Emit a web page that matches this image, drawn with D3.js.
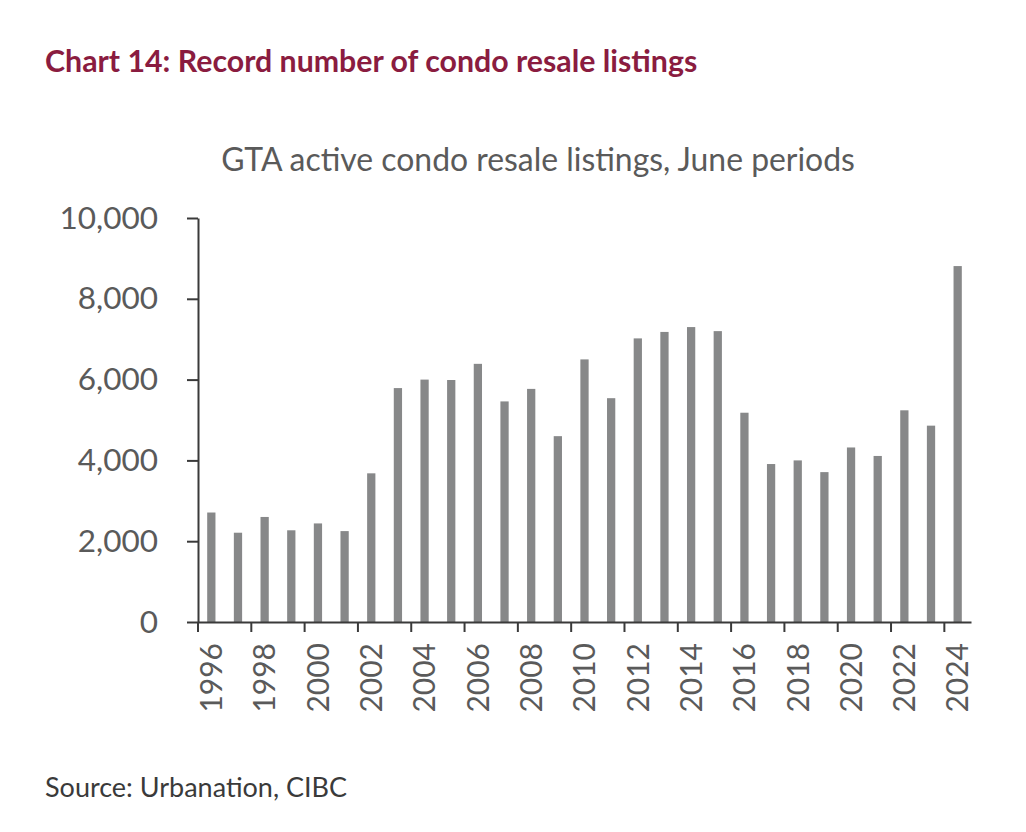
<!DOCTYPE html>
<html>
<head>
<meta charset="utf-8">
<script src="https://cdn.jsdelivr.net/npm/d3@7"></script>
<style>
  body { margin: 0; background: #fff; }
  svg { display: block; }
</style>
</head>
<body>
<div id="graf"></div>
<script>
// Datos: listados activos de condos en reventa, GTA, junio
const years = d3.range(1996, 2025)
const listings = [2710, 2210, 2600, 2270, 2440, 2250, 3680, 5790, 6000, 5990,
                  6390, 5460, 5770, 4600, 6500, 5540, 7020, 7180, 7300, 7200,
                  5180, 3910, 4000, 3710, 4320, 4110, 5240, 4860, 8810]
const yTicks = [0, 2000, 4000, 6000, 8000, 10000]
const xLabels = years.filter(d => d % 2 === 0)

const titleText = 'Chart 14: Record number of condo resale listings'
const subtitleText = 'GTA active condo resale listings, June periods'
const sourceText = 'Source: Urbanation, CIBC'

const data = years.map((y, i) => ({ year: y, value: listings[i] }))

// I. Configuración
const ancho_total = 1026
const alto_total = 832
const margins = { top: 218, left: 198, right: 55, bottom: 210 }
const ancho = ancho_total - margins.left - margins.right
const alto = alto_total - margins.top - margins.bottom

const svg = d3.select('#graf').append('svg')
  .attr('width', ancho_total)
  .attr('height', alto_total)

const fontGris = 'Lato, "Open Sans", sans-serif'

// títulos
svg.append('text')
  .attr('x', 45)
  .attr('y', 72)
  .attr('font-family', fontGris)
  .attr('font-weight', 700)
  .attr('font-size', '30.3px')
  .attr('fill', '#8a1c40')
  .text(titleText)

svg.append('text')
  .attr('x', 538)
  .attr('y', 171)
  .attr('text-anchor', 'middle')
  .attr('font-family', fontGris)
  .attr('font-size', '31.9px')
  .attr('fill', '#5a5a5a')
  .text(subtitleText)

svg.append('text')
  .attr('x', 45)
  .attr('y', 797)
  .attr('font-family', fontGris)
  .attr('font-size', '27px')
  .attr('fill', '#3a3a3a')
  .text(sourceText)

const g = svg.append('g')
  .attr('transform', `translate(${margins.left}, ${margins.top})`)

// escaladores
const x = d3.scaleBand()
  .domain(years)
  .range([0, ancho])
  .paddingInner(0.69)
  .paddingOuter(0.345)

const y = d3.scaleLinear()
  .domain([0, 10000])
  .range([alto, 0])

// barras
g.selectAll('rect.bar')
  .data(data)
  .enter()
  .append('rect')
    .attr('class', 'bar')
    .attr('x', d => x(d.year))
    .attr('y', d => y(d.value))
    .attr('width', x.bandwidth())
    .attr('height', d => alto - y(d.value))
    .attr('fill', '#878889')

// eje Y
const yAxisG = g.append('g')
  .call(d3.axisLeft(y)
    .tickValues(yTicks)
    .tickSize(11)
    .tickSizeOuter(0)
    .tickPadding(29)
    .tickFormat(d3.format(',d')))

// eje X: marcas en los bordes de banda, etiquetas al centro
const xAxisG = g.append('g')
  .attr('transform', `translate(0,${alto})`)
  .call(d3.axisBottom(x)
    .tickValues(xLabels)
    .tickSize(10)
    .tickSizeOuter(0))

xAxisG.selectAll('.tick line')
  .attr('x1', -x.step() / 2)
  .attr('x2', -x.step() / 2)

xAxisG.selectAll('.tick text')
  .attr('transform', 'rotate(-90)')
  .attr('text-anchor', 'end')
  .attr('x', -21)
  .attr('y', 0)
  .attr('dy', '0.36em')

// estilos de ejes
;[yAxisG, xAxisG].forEach(a => {
  a.selectAll('path.domain').attr('stroke', '#3a3a3a').attr('stroke-width', 2)
  a.selectAll('.tick line').attr('stroke', '#3a3a3a').attr('stroke-width', 2)
  a.selectAll('.tick text')
    .attr('font-family', fontGris)
    .attr('fill', '#5a5a5a')
})
yAxisG.selectAll('.tick text').attr('font-size', '31.5px')
xAxisG.selectAll('.tick text').attr('font-size', '30px')
</script>
</body>
</html>
